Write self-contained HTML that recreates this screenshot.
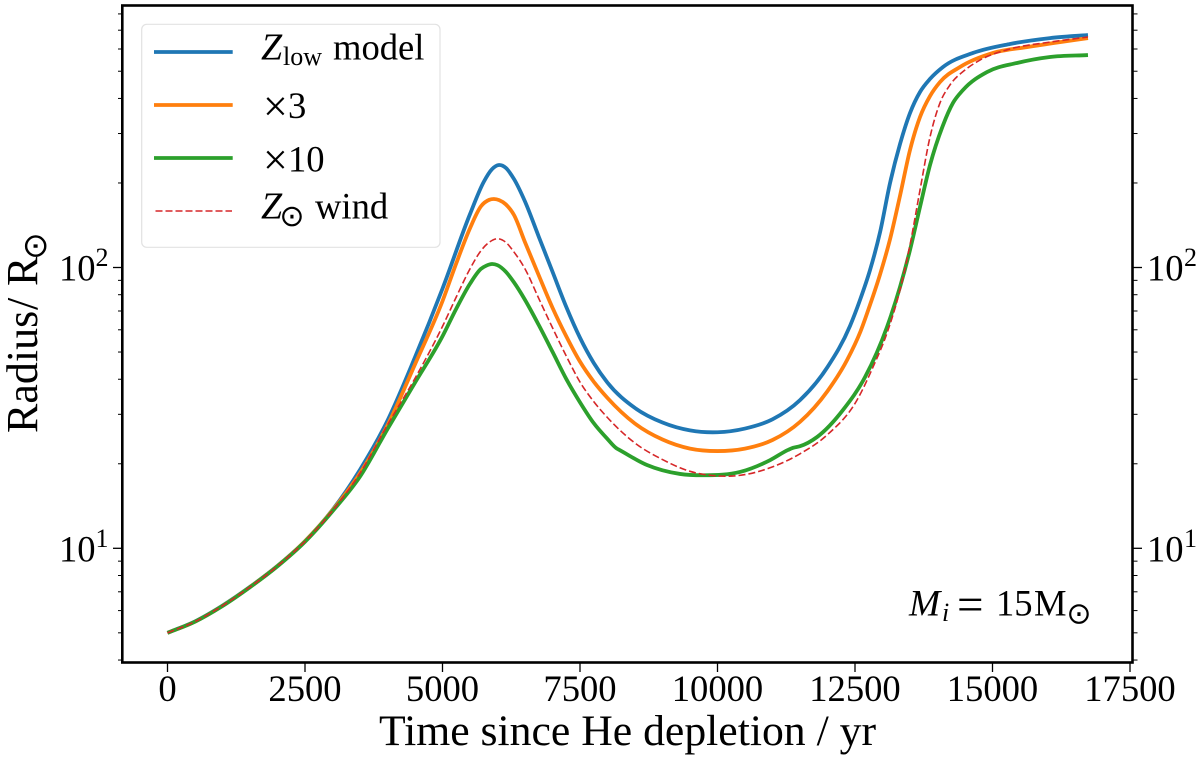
<!DOCTYPE html>
<html lang="en">
<head>
<meta charset="utf-8">
<title>Radius evolution since He depletion</title>
<style>
html,body{margin:0;padding:0;background:#fff;}
svg{display:block;}
text{font-family:"Liberation Serif","DejaVu Serif",serif;fill:#000;}
.sun{font-family:"DejaVu Sans",sans-serif;}
</style>
</head>
<body>
<svg id="chart" xmlns="http://www.w3.org/2000/svg" width="1200" height="757" viewBox="0 0 1200 757">
  <rect x="0" y="0" width="1200" height="757" fill="#fff"/>
  <g id="ticks"></g>
  <g id="series"></g>
  <rect x="122.3" y="5.5" width="1010.2" height="657" fill="none" stroke="#000" stroke-width="2.6"/>

  <g>
    <rect x="141.7" y="24.3" width="298.3" height="223" rx="5" fill="#fff" fill-opacity="0.8" stroke="#e2e2e2" stroke-width="1.2"/>
    <g>
      <line x1="154" y1="52" x2="232.7" y2="52" stroke="#1f77b4" stroke-width="3.8"/>
      <text x="261" y="59.3" font-size="38" font-style="italic">Z</text>
      <text x="283" y="65" font-size="26">low</text>
      <text x="333" y="59.3" font-size="36.6">model</text>
    </g>
    <g>
      <line x1="154" y1="105" x2="232.7" y2="105" stroke="#ff7f0e" stroke-width="3.8"/>
      <text><tspan x="263" y="121" font-size="44">×</tspan><tspan x="288" y="118" font-size="36.6">3</tspan></text>
    </g>
    <g>
      <line x1="154" y1="158" x2="232.7" y2="158" stroke="#2ca02c" stroke-width="3.8"/>
      <text><tspan x="263" y="174.7" font-size="44">×</tspan><tspan x="288" y="171.7" font-size="36.6">10</tspan></text>
    </g>
    <g>
      <line x1="155.5" y1="211" x2="232" y2="211" stroke="#d62728" stroke-width="1.6" stroke-dasharray="7 3"/>
      <text x="261" y="218.3" font-size="38" font-style="italic">Z</text>
      <text class="sun" x="292" y="226" font-size="30" text-anchor="middle">⊙</text>
      <text x="315" y="218.3" font-size="36.6">wind</text>
    </g>
  </g>

  <g>
    <text x="909" y="615.7" font-size="37.5" font-style="italic">M</text>
    <text x="942" y="621" font-size="26" font-style="italic">i</text>
    <text x="957" y="620" font-size="47">=</text>
    <text x="996" y="615.7" font-size="36.6">15</text>
    <text x="1034" y="615.7" font-size="36.6">M</text>
    <text class="sun" x="1079" y="623.3" font-size="30" text-anchor="middle">⊙</text>
  </g>

  <text x="627.5" y="745" font-size="43.7" text-anchor="middle">Time since He depletion / yr</text>

  <g>
    <text transform="translate(37,433) rotate(-90)" font-size="44">Radius</text>
    <text transform="translate(37,310) rotate(-90)" font-size="44">/</text>
    <text transform="translate(37,286) rotate(-90)" font-size="44">R</text>
    <text class="sun" transform="translate(46,246) rotate(-90)" font-size="33" text-anchor="middle">⊙</text>
  </g>
</svg>

<script>
// Tick values
const xTickValues = [0, 2500, 5000, 7500, 10000, 12500, 15000, 17500];
const yMajorTickValues = [10, 100];
const yMajorTickExponents = ["1", "2"];
const yMinorTickValues = [4, 5, 6, 7, 8, 9, 20, 30, 40, 50, 60, 70, 80, 90, 200, 300, 400, 500, 600, 700, 800];

// Z_low model
const blueTime = [0,500,1000,1500,2000,2500,3000,3500,4000,4500,5000,5500,5750,5900,6027,6150,6300,6500,6750,7000,7250,7500,7750,8000,8500,9000,9500,10000,10500,11000,11500,12000,12409,12591,12773,12955,13136,13318,13500,13682,13864,14100,14645,15318,16045,16736];
const blueRadius = [5.00,5.49,6.25,7.29,8.66,10.6,13.7,19.05,28.5,47.9,84.1,154.9,201.8,223.9,231.7,226.5,206.5,171.8,128.8,96.6,72.4,56.2,45.7,38.9,31.6,28.05,26.3,25.9,26.7,28.8,33.7,44.2,61.9,76.6,97.9,133.4,199.5,275,354.8,421.7,469.4,517.6,580.8,625.2,656.1,673];

// x3
const orangeTime = [0,500,1000,1500,2000,2500,3000,3500,4000,4500,5000,5250,5500,5700,5850,5936,6030,6150,6300,6500,6750,7000,7250,7500,7750,8000,8500,9000,9500,10000,10500,11000,11500,12000,12355,12600,12773,12955,13136,13318,13500,13682,13864,14045,14409,15009,15627,16227,16736];
const orangeRadius = [5.00,5.48,6.24,7.28,8.65,10.6,13.65,18.5,27.4,45.2,75.9,103.5,138,165.2,174.2,175.4,173.8,167.9,153.8,123,93.8,71.9,56.9,46.2,39.2,34.3,27.8,24.4,22.65,22.2,22.65,24.3,28.2,36.3,46.8,59.2,73.6,94.4,125.9,179.9,262,343.6,408,457.6,517.6,580.8,609.5,635,656];

// x10
const greenTime = [0,500,1000,1500,2000,2500,3000,3500,4000,4500,5000,5250,5500,5700,5800,5900,6000,6150,6300,6500,6750,7000,7250,7500,7750,8000,8173,8200,8718,9318,9773,10409,10955,11282,11373,11500,11809,12282,12682,13082,13318,13500,13682,13864,14100,14280,14464,14900,15445,16045,16736];
const greenRadius = [5.00,5.48,6.23,7.27,8.63,10.55,13.55,18.0,26.6,38.9,56.9,71.3,87.5,98.9,101.6,102.9,101.9,96.6,88.5,76.7,62.4,50.1,40.1,33.1,27.9,24.5,22.65,22.5,19.8,18.4,18.2,18.7,20.6,22.4,22.8,23.1,24.9,31.1,40.7,61.4,85.2,115.4,164.3,231.7,321,385,428.6,496.6,535,562,571];

// Z_sun wind
const redTime = [0,500,1000,1500,2000,2500,3000,3500,4000,4500,5000,5250,5500,5700,5850,6009,6150,6300,6500,6750,7000,7250,7500,7750,8000,8500,9000,9500,10000,10500,11000,11500,12000,12536,12827,13082,13318,13500,13682,13864,14045,14227,14500,14773,15318,16045,16736];
const redRadius = [5.00,5.48,6.24,7.28,8.64,10.58,13.6,18.5,27.5,40.3,61.7,78.5,98.9,114.8,123,126.6,123,113.5,98.9,77.6,61,48.4,39.1,33.3,29.2,23.7,20.7,18.8,18.1,18.3,19.5,21.7,25.4,33.7,44.2,58.4,83.2,120.3,188.8,291.6,385.5,446.7,505,548,600,635,662];

const SVG_NS = "http://www.w3.org/2000/svg";
const PLOT_BOTTOM = 662.5;
const PLOT_LEFT = 122.3;
const PLOT_RIGHT = 1132.5;

function xScale(time) {
  return 167.5 + 0.055 * time;
}
function yScale(radius) {
  return 548.3 - 280.8 * Math.log10(radius / 10);
}

function smoothPath(xs, ys) {
  const n = xs.length;
  const m = new Array(n);
  for (let i = 0; i < n; i++) {
    if (i === 0) {
      m[i] = (ys[1] - ys[0]) / (xs[1] - xs[0]);
    } else if (i === n - 1) {
      m[i] = (ys[n - 1] - ys[n - 2]) / (xs[n - 1] - xs[n - 2]);
    } else {
      const h0 = xs[i] - xs[i - 1];
      const h1 = xs[i + 1] - xs[i];
      const s0 = (ys[i] - ys[i - 1]) / h0;
      const s1 = (ys[i + 1] - ys[i]) / h1;
      m[i] = (s1 * h0 + s0 * h1) / (h0 + h1);
    }
  }
  let d = "M" + xs[0].toFixed(2) + " " + ys[0].toFixed(2);
  for (let i = 0; i < n - 1; i++) {
    const h = xs[i + 1] - xs[i];
    d += "C" + (xs[i] + h / 3).toFixed(2) + " " + (ys[i] + m[i] * h / 3).toFixed(2) + " " + (xs[i + 1] - h / 3).toFixed(2) + " " + (ys[i + 1] - m[i + 1] * h / 3).toFixed(2) + " " + xs[i + 1].toFixed(2) + " " + ys[i + 1].toFixed(2);
  }
  return d;
}

const ticksGroup = document.getElementById("ticks");
const seriesGroup = document.getElementById("series");

function tickLine(x1, y1, x2, y2, width) {
  const el = document.createElementNS(SVG_NS, "line");
  el.setAttribute("x1", x1);
  el.setAttribute("y1", y1);
  el.setAttribute("x2", x2);
  el.setAttribute("y2", y2);
  el.setAttribute("stroke", "#000");
  el.setAttribute("stroke-width", width);
  ticksGroup.appendChild(el);
  return el;
}

function tickText(x, y, size, anchor, content) {
  const el = document.createElementNS(SVG_NS, "text");
  el.setAttribute("x", x);
  el.setAttribute("y", y);
  el.setAttribute("font-size", size);
  el.setAttribute("text-anchor", anchor);
  el.textContent = content;
  ticksGroup.appendChild(el);
  return el;
}

xTickValues.forEach(function (value) {
  const x = xScale(value);
  const mark = tickLine(x, PLOT_BOTTOM, x, 672, 1.3);
  
  
  const label = tickText(x, 701, 36.6, "middle", String(value));
  
  
});

yMajorTickValues.forEach(function (value, i) {
  const y = yScale(value);
  const leftMark = tickLine(113, y, PLOT_LEFT, y, 1.3);
  
  
  const rightMark = tickLine(PLOT_RIGHT, y, 1142, y, 1.3);
  
  
  const leftBase = tickText(59, y + 13, 36.6, "start", "10");
  
  
  const leftExp = tickText(95.5, y - 1.5, 26, "start", yMajorTickExponents[i]);
  
  
  const rightBase = tickText(1147, y + 13, 36.6, "start", "10");
  
  
  const rightExp = tickText(1184, y - 1.5, 26, "start", yMajorTickExponents[i]);
  
  
});

yMinorTickValues.forEach(function (value) {
  const y = yScale(value);
  const leftMark = tickLine(118, y, PLOT_LEFT, y, 1);
  
  
  const rightMark = tickLine(PLOT_RIGHT, y, 1137.5, y, 1);
  
  
});

function drawSeries(times, radii, color, width, dash) {
  const el = document.createElementNS(SVG_NS, "path");
  el.setAttribute("d", smoothPath(times.map(xScale), radii.map(yScale)));
  el.setAttribute("fill", "none");
  el.setAttribute("stroke", color);
  el.setAttribute("stroke-width", width);
  el.setAttribute("stroke-linejoin", "round");
  if (dash) {
    el.setAttribute("stroke-dasharray", dash);
  }
  seriesGroup.appendChild(el);
  return el;
}

const blueLine = drawSeries(blueTime, blueRadius, "#1f77b4", 3.8, null);


const orangeLine = drawSeries(orangeTime, orangeRadius, "#ff7f0e", 3.8, null);


const greenLine = drawSeries(greenTime, greenRadius, "#2ca02c", 3.8, null);


const redLine = drawSeries(redTime, redRadius, "#d62728", 1.6, "7 3");


</script>
</body>
</html>
